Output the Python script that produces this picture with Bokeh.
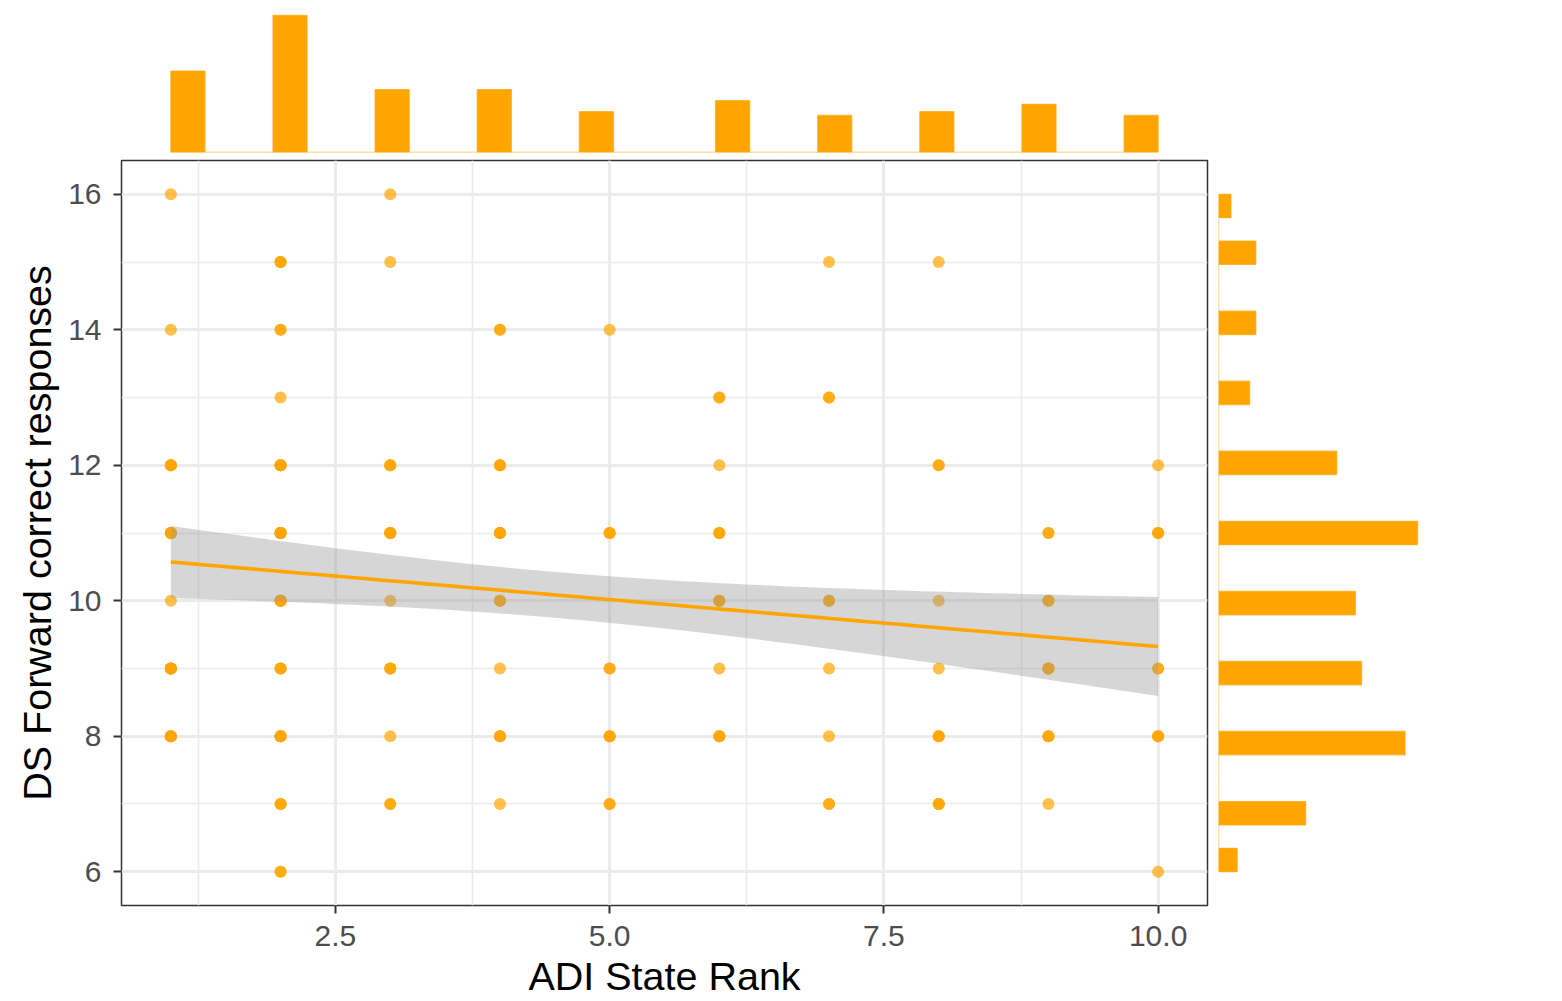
import numpy as np
from bokeh.plotting import figure
from bokeh.models import FixedTicker, Range1d
from bokeh.layouts import column, row
from bokeh.embed import file_html
from bokeh.resources import INLINE

# ---- data: number of participants at each (ADI State Rank, DS Forward score) cell ----
cell_rank = [1, 3,
             2, 3, 7, 8,
             1, 2, 4, 5,
             2, 6, 7,
             1, 2, 3, 4, 6, 8, 10,
             1, 2, 3, 4, 5, 6, 9, 10,
             1, 2, 3, 4, 6, 7, 8, 9,
             1, 2, 3, 4, 5, 6, 7, 8, 9, 10,
             1, 2, 3, 4, 5, 6, 7, 8, 9, 10,
             2, 3, 4, 5, 7, 8, 9,
             2, 10]
cell_score = [16, 16,
              15, 15, 15, 15,
              14, 14, 14, 14,
              13, 13, 13,
              12, 12, 12, 12, 12, 12, 12,
              11, 11, 11, 11, 11, 11, 11, 11,
              10, 10, 10, 10, 10, 10, 10, 10,
              9, 9, 9, 9, 9, 9, 9, 9, 9, 9,
              8, 8, 8, 8, 8, 8, 8, 8, 8, 8,
              7, 7, 7, 7, 7, 7, 7,
              6, 6]
cell_count = [1, 1,
              3, 1, 1, 1,
              1, 2, 2, 1,
              1, 2, 2,
              4, 5, 3, 3, 1, 2, 1,
              5, 7, 5, 4, 3, 3, 2, 3,
              1, 6, 1, 3, 4, 3, 1, 3,
              5, 3, 3, 1, 2, 1, 1, 1, 4, 2,
              5, 5, 1, 3, 3, 3, 1, 3, 3, 3,
              3, 2, 1, 2, 2, 3, 1,
              2, 1]

x_ticks = [2.5, 5.0, 7.5, 10.0]
x_tick_labels = ["2.5", "5.0", "7.5", "10.0"]
x_minor = [1.25, 3.75, 6.25, 8.75]
y_ticks = [6, 8, 10, 12, 14, 16]
y_minor = [7, 9, 11, 13, 15]
x_title = "ADI State Rank"
y_title = "DS Forward correct responses"

ORANGE = "#FFA500"
FONT = "Liberation Sans"

# expand cells to observations
xs_obs = np.repeat(np.array(cell_rank, dtype=float), cell_count)
ys_obs = np.repeat(np.array(cell_score, dtype=float), cell_count)
n = len(xs_obs)

# linear fit with 95% confidence band
slope, intercept = np.polyfit(xs_obs, ys_obs, 1)
mx = xs_obs.mean()
sxx = ((xs_obs - mx) ** 2).sum()
resid = ys_obs - (intercept + slope * xs_obs)
s = np.sqrt((resid ** 2).sum() / (n - 2))
t_crit = 1.975
xf = np.linspace(xs_obs.min(), xs_obs.max(), 80)
yf = intercept + slope * xf
se = s * np.sqrt(1.0 / n + (xf - mx) ** 2 / sxx)

# axis ranges (5% expansion like ggplot)
xmin, xmax = xs_obs.min(), xs_obs.max()
ymin, ymax = ys_obs.min(), ys_obs.max()
xpad = 0.05 * (xmax - xmin)
ypad = 0.05 * (ymax - ymin)
x_range = Range1d(xmin - xpad, xmax + xpad)
y_range = Range1d(ymin - ypad, ymax + ypad)

MAIN_W, MAIN_H = 1212, 844
BL, BR, BT, BB = 121, 5, 3, 96

main = figure(width=MAIN_W, height=MAIN_H, x_range=x_range, y_range=y_range,
              output_backend="svg", toolbar_location=None,
              min_border_left=BL, min_border_right=BR, min_border_top=BT, min_border_bottom=BB)
main.background_fill_color = "white"
main.border_fill_color = "white"
main.outline_line_color = "#333333"
main.outline_line_width = 1.5

main.xaxis.ticker = FixedTicker(ticks=x_ticks, minor_ticks=x_minor)
main.yaxis.ticker = FixedTicker(ticks=y_ticks, minor_ticks=y_minor)
main.xaxis.major_label_overrides = {t: l for t, l in zip(x_ticks, x_tick_labels)}
main.yaxis.major_label_overrides = {t: str(t) for t in y_ticks}
for ax in (main.xaxis, main.yaxis):
    ax.axis_line_color = None
    ax.major_tick_line_color = "#333333"
    ax.major_tick_line_width = 2
    ax.major_tick_out = 8
    ax.major_tick_in = 0
    ax.minor_tick_line_color = None
    ax.major_label_text_font = FONT
    ax.major_label_text_font_size = "30px"
    ax.major_label_text_color = "#4D4D4D"
    ax.axis_label_text_font = FONT
    ax.axis_label_text_font_size = "39.5px"
    ax.axis_label_text_font_style = "normal"
    ax.axis_label_text_color = "black"
main.xaxis.major_label_standoff = 12
main.yaxis.major_label_standoff = 12
main.xaxis.axis_label = x_title
main.xaxis.axis_label_standoff = 5
main.yaxis.axis_label = y_title
main.yaxis.axis_label_standoff = 6

for g in (main.xgrid, main.ygrid):
    g.grid_line_color = "#EBEBEB"
    g.grid_line_width = 3
    g.minor_grid_line_color = "#EBEBEB"
    g.minor_grid_line_width = 1.7

main.scatter(xs_obs, ys_obs, size=12, fill_color=ORANGE, line_color=None, fill_alpha=0.7)
main.varea(x=xf, y1=yf - t_crit * se, y2=yf + t_crit * se, fill_color="#999999", fill_alpha=0.4)
main.line(xf, yf, line_color=ORANGE, line_width=3.6)

# top marginal histogram
x_counts, x_edges = np.histogram(xs_obs, bins=29, range=(xmin, xmax))
TOP_H = 157
top = figure(width=MAIN_W, height=TOP_H, x_range=x_range,
             y_range=Range1d(0, x_counts.max() * 144 / 137),
             output_backend="svg", toolbar_location=None,
             x_axis_type=None, y_axis_type=None,
             min_border_left=BL, min_border_right=BR, min_border_top=8, min_border_bottom=5)
top.outline_line_color = None
top.grid.visible = False
top.quad(left=x_edges[:-1], right=x_edges[1:], bottom=0, top=x_counts,
         fill_color=ORANGE, line_color=ORANGE, line_alpha=0.7, line_width=1.3)

# right marginal histogram
y_counts, y_edges = np.histogram(ys_obs, bins=29, range=(ymin, ymax))
RIGHT_W = 340
right = figure(width=RIGHT_W, height=MAIN_H, y_range=y_range,
               x_range=Range1d(0, y_counts.max() * (RIGHT_W - 6) / 199),
               output_backend="svg", toolbar_location=None,
               x_axis_type=None, y_axis_type=None,
               min_border_left=6, min_border_right=0, min_border_top=BT, min_border_bottom=BB)
right.outline_line_color = None
right.grid.visible = False
right.quad(left=0, right=y_counts, bottom=y_edges[:-1], top=y_edges[1:],
           fill_color=ORANGE, line_color=ORANGE, line_alpha=0.7, line_width=1.3)

layout = column(top, row(main, right))
open("out.html", "w").write(file_html(layout, INLINE))
